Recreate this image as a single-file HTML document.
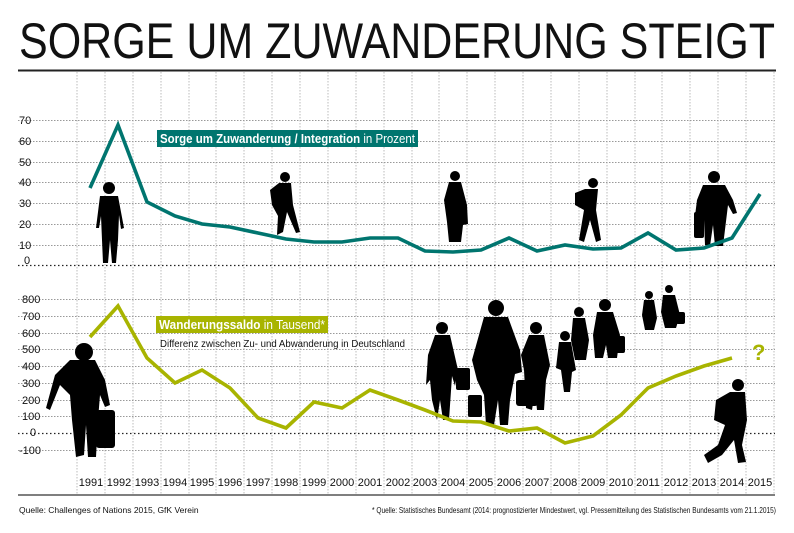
<!DOCTYPE html>
<html><head><meta charset="utf-8"><style>
body{margin:0;background:#fff}
svg{display:block}
text{font-family:"Liberation Sans Narrow","Liberation Sans",sans-serif}
</style></head><body>
<svg width="794" height="533" viewBox="0 0 794 533" xmlns="http://www.w3.org/2000/svg">
<text x="19" y="58" font-size="50" textLength="756" lengthAdjust="spacingAndGlyphs" fill="#111">SORGE UM ZUWANDERUNG STEIGT</text>
<line x1="18" y1="70.5" x2="776" y2="70.5" stroke="#222" stroke-width="2"/>
<g stroke="#bbb" stroke-width="1" stroke-dasharray="1.5,1.5">
<line x1="77" y1="72" x2="77" y2="494"/><line x1="105" y1="72" x2="105" y2="494"/><line x1="133" y1="72" x2="133" y2="494"/><line x1="161" y1="72" x2="161" y2="494"/><line x1="189" y1="72" x2="189" y2="494"/><line x1="216" y1="72" x2="216" y2="494"/><line x1="244" y1="72" x2="244" y2="494"/><line x1="272" y1="72" x2="272" y2="494"/><line x1="300" y1="72" x2="300" y2="494"/><line x1="328" y1="72" x2="328" y2="494"/><line x1="356" y1="72" x2="356" y2="494"/><line x1="384" y1="72" x2="384" y2="494"/><line x1="412" y1="72" x2="412" y2="494"/><line x1="439" y1="72" x2="439" y2="494"/><line x1="467" y1="72" x2="467" y2="494"/><line x1="495" y1="72" x2="495" y2="494"/><line x1="523" y1="72" x2="523" y2="494"/><line x1="551" y1="72" x2="551" y2="494"/><line x1="579" y1="72" x2="579" y2="494"/><line x1="607" y1="72" x2="607" y2="494"/><line x1="635" y1="72" x2="635" y2="494"/><line x1="662" y1="72" x2="662" y2="494"/><line x1="690" y1="72" x2="690" y2="494"/><line x1="718" y1="72" x2="718" y2="494"/><line x1="746" y1="72" x2="746" y2="494"/><line x1="774" y1="72" x2="774" y2="494"/>
</g>
<g stroke="#999" stroke-width="1" stroke-dasharray="1.5,1.5">
<line x1="18" y1="120.5" x2="775" y2="120.5"/><line x1="18" y1="141.5" x2="775" y2="141.5"/><line x1="18" y1="162.5" x2="775" y2="162.5"/><line x1="18" y1="182.5" x2="775" y2="182.5"/><line x1="18" y1="203.5" x2="775" y2="203.5"/><line x1="18" y1="224.5" x2="775" y2="224.5"/><line x1="18" y1="245.5" x2="775" y2="245.5"/>
<line x1="18" y1="299.5" x2="775" y2="299.5"/><line x1="18" y1="316.5" x2="775" y2="316.5"/><line x1="18" y1="333.5" x2="775" y2="333.5"/><line x1="18" y1="349.5" x2="775" y2="349.5"/><line x1="18" y1="366.5" x2="775" y2="366.5"/><line x1="18" y1="383.5" x2="775" y2="383.5"/><line x1="18" y1="400.5" x2="775" y2="400.5"/><line x1="18" y1="416.5" x2="775" y2="416.5"/><line x1="18" y1="450.5" x2="775" y2="450.5"/>
</g>
<g stroke="#222" stroke-width="1.2" stroke-dasharray="1.5,2.5">
<line x1="18" y1="265.5" x2="775" y2="265.5"/><line x1="18" y1="433.5" x2="775" y2="433.5"/>
</g>
<g font-size="11" fill="#111">
<text x="19" y="124">70</text><text x="19" y="145">60</text><text x="19" y="166">50</text><text x="19" y="186">40</text><text x="19" y="207">30</text><text x="19" y="228">20</text><text x="19" y="249">10</text><text x="24" y="264">0</text>
<text x="22" y="303">800</text><text x="22" y="320">700</text><text x="22" y="337">600</text><text x="22" y="353">500</text><text x="22" y="370">400</text><text x="22" y="387">300</text><text x="22" y="404">200</text><text x="22" y="420">100</text><text x="30" y="436">0</text><text x="19" y="454">-100</text>
</g>
<g font-size="11" fill="#111" text-anchor="middle">
<text x="91" y="486">1991</text><text x="119" y="486">1992</text><text x="147" y="486">1993</text><text x="175" y="486">1994</text><text x="202" y="486">1995</text><text x="230" y="486">1996</text><text x="258" y="486">1997</text><text x="286" y="486">1998</text><text x="314" y="486">1999</text><text x="342" y="486">2000</text><text x="370" y="486">2001</text><text x="398" y="486">2002</text><text x="425" y="486">2003</text><text x="453" y="486">2004</text><text x="481" y="486">2005</text><text x="509" y="486">2006</text><text x="537" y="486">2007</text><text x="565" y="486">2008</text><text x="593" y="486">2009</text><text x="621" y="486">2010</text><text x="648" y="486">2011</text><text x="676" y="486">2012</text><text x="704" y="486">2013</text><text x="732" y="486">2014</text><text x="760" y="486">2015</text>
</g>
<line x1="18" y1="495" x2="775" y2="495" stroke="#555" stroke-width="1.5"/>
<text x="19" y="513" font-size="8.5" fill="#111">Quelle: Challenges of Nations 2015, GfK Verein</text>
<text x="776" y="513" font-size="8.5" fill="#111" text-anchor="end" textLength="404" lengthAdjust="spacingAndGlyphs">* Quelle: Statistisches Bundesamt (2014: prognostizierter Mindestwert, vgl. Pressemitteilung des Statistischen Bundesamts vom 21.1.2015)</text>

<g fill="#000">
<circle cx="109" cy="188" r="6"/><path d="M100 196 L118 196 L124 228 L121 229 L119 215 L118 240 L116 263 L112 263 L110 240 L108 263 L103 263 L102 240 L101 216 L99 228 L96 228 Z"/>
<circle cx="285" cy="177" r="5"/><path d="M279 183 L291 183 L293 205 L300 232 L296 233 L287 212 L283 232 L277 235 L278 216 L272 205 L270 190 Z"/>
<circle cx="455" cy="176" r="5"/><path d="M449 182 L461 182 L467 205 L468 224 L463 225 L461 242 L449 242 L447 222 L444 200 Z"/>
<circle cx="593" cy="183" r="5"/><path d="M585 189 L598 189 L596 210 L601 240 L596 242 L590 220 L584 242 L579 240 L584 210 L575 205 L575 193 Z"/>
<circle cx="714" cy="177" r="6"/><path d="M703 185 L725 185 L733 200 L737 213 L733 214 L728 205 L723 246 L715 246 L713 225 L710 246 L705 245 L704 220 L695 216 L697 200 Z"/><rect x="694" y="212" width="10" height="26" rx="2"/>
<circle cx="84" cy="352" r="9"/><path d="M70 360 L95 360 L105 380 L110 405 L105 407 L100 395 L98 420 L96 457 L88 457 L86 425 L84 455 L76 457 L72 420 L70 395 L60 385 L50 410 L46 408 L55 375 Z"/><rect x="96" y="410" width="19" height="38" rx="3"/>
<circle cx="442" cy="328" r="6"/><path d="M435 335 L450 335 L458 370 L455 386 L452 376 L449 420 L443 420 L440 400 L437 420 L432 400 L430 380 L426 385 L428 355 Z"/><rect x="456" y="368" width="14" height="22" rx="2"/>
<circle cx="496" cy="308" r="8"/><path d="M484 317 L508 317 L520 350 L522 372 L515 374 L510 400 L508 425 L500 425 L498 400 L494 425 L486 425 L484 395 L477 380 L472 360 Z"/><rect x="468" y="395" width="14" height="22" rx="2"/>
<circle cx="536" cy="328" r="6"/><path d="M529 335 L544 335 L550 365 L546 380 L544 410 L537 410 L535 390 L532 410 L526 408 L524 370 L521 355 Z"/><rect x="516" y="380" width="22" height="26" rx="3"/>
<circle cx="565" cy="336" r="5"/><path d="M559 342 L571 342 L576 370 L572 372 L570 392 L564 392 L561 370 L556 368 Z"/>
<circle cx="579" cy="312" r="5"/><path d="M573 318 L585 318 L589 340 L586 360 L575 360 L571 340 Z"/>
<circle cx="605" cy="305" r="6"/><path d="M597 312 L613 312 L620 335 L617 358 L608 358 L606 345 L603 358 L595 358 L593 335 Z"/><rect x="612" y="336" width="13" height="17" rx="2"/>
<circle cx="649" cy="295" r="4"/><path d="M644 300 L654 300 L657 318 L654 330 L645 330 L642 315 Z"/>
<circle cx="669" cy="289" r="4"/><path d="M663 295 L675 295 L680 315 L676 328 L665 328 L661 312 Z"/><rect x="676" y="312" width="9" height="12" rx="2"/>
<circle cx="738" cy="385" r="6"/><path d="M730 392 L745 392 L747 420 L742 445 L746 462 L738 463 L734 440 L722 455 L708 463 L704 455 L718 445 L725 425 L714 420 L716 400 Z"/>
</g>

<polyline fill="none" stroke="#00756f" stroke-width="3.6" points="90,188 118,125 147,202 175,216 202,224 230,227 258,233 286,239 314,242 342,242 370,238 398,238 425,251 453,252 481,250 509,238 537,251 565,245 593,249 621,248 648,233 676,250 704,248 732,238 760,194"/>
<polyline fill="none" stroke="#a8b400" stroke-width="3.6" points="90,337 118,306 147,358 175,383 202,370 230,388 258,418 286,428 314,402 342,408 370,390 398,400 425,410 453,421 481,422 509,431 537,428 565,443 593,436 621,415 648,388 676,376 704,366 732,358"/>
<text x="752" y="360" font-size="22" font-weight="bold" fill="#a8b400">?</text>

<rect x="157" y="130" width="261" height="17" fill="#00756f"/>
<text x="160" y="143" font-size="13" fill="#fff" textLength="255" lengthAdjust="spacingAndGlyphs"><tspan font-weight="bold">Sorge um Zuwanderung / Integration</tspan> in Prozent</text>
<rect x="156" y="316" width="172" height="17" fill="#a8b400"/>
<text x="159" y="329" font-size="13" fill="#fff" textLength="166" lengthAdjust="spacingAndGlyphs"><tspan font-weight="bold">Wanderungssaldo</tspan> in Tausend*</text>
<text x="160" y="347" font-size="10.5" fill="#111" textLength="245" lengthAdjust="spacingAndGlyphs">Differenz zwischen Zu- und Abwanderung in Deutschland</text>
</svg>
</body></html>
